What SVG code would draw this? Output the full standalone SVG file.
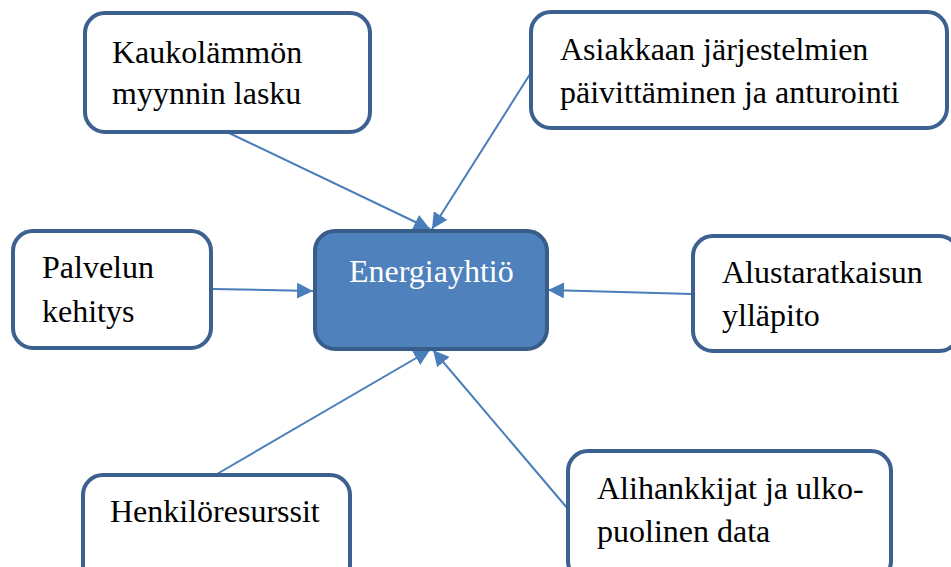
<svg xmlns="http://www.w3.org/2000/svg" width="951" height="567" viewBox="0 0 951 567">
  <style>
    .box { fill: #ffffff; stroke: #3c6090; stroke-width: 4; }
    .hub { fill: #4f81bd; stroke: #385d8a; stroke-width: 4; }
    .lbl { font-family: 'Liberation Serif', 'DejaVu Serif', serif; font-size: 32px; fill: #000000; }
    .hubtxt { font-family: 'Liberation Serif', 'DejaVu Serif', serif; font-size: 32px; fill: #ffffff; }
    .link { stroke: #4a7ebb; stroke-width: 2; fill: none; marker-end: url(#head); }
  </style>
  <defs>
    <marker id="head" markerUnits="userSpaceOnUse" markerWidth="18" markerHeight="16" refX="16" refY="8" orient="auto">
      <path d="M0,0 L16,8 L0,16 Z" fill="#4a7ebb"/>
    </marker>
  </defs>
  <rect width="951" height="567" fill="#ffffff"/>

  <g id="connectors">
    <line class="link" x1="229" y1="133" x2="430" y2="229"/>
    <line class="link" x1="532" y1="71" x2="432" y2="229"/>
    <line class="link" x1="212" y1="289" x2="313" y2="291"/>
    <line class="link" x1="692" y1="294" x2="548" y2="290"/>
    <line class="link" x1="217" y1="474" x2="430" y2="350"/>
    <line class="link" x1="568" y1="509" x2="433" y2="350"/>
  </g>

  <g id="kaukolammon">
    <rect class="box" x="85" y="13" width="285" height="119" rx="20"/>
    <text class="lbl" x="112" y="63">Kaukolämmön</text>
    <text class="lbl" x="112" y="104">myynnin lasku</text>
  </g>

  <g id="asiakkaan">
    <rect class="box" x="531" y="12" width="416" height="116" rx="20"/>
    <text class="lbl" x="560" y="60">Asiakkaan järjestelmien</text>
    <text class="lbl" x="560" y="103">päivittäminen ja anturointi</text>
  </g>

  <g id="palvelun">
    <rect class="box" x="13" y="231" width="198" height="117" rx="20"/>
    <text class="lbl" x="42" y="278">Palvelun</text>
    <text class="lbl" x="42" y="322">kehitys</text>
  </g>

  <g id="energiayhtio">
    <rect class="hub" x="315" y="231" width="232" height="118" rx="20"/>
    <text class="hubtxt" x="349" y="282">Energiayhtiö</text>
  </g>

  <g id="alustaratkaisun">
    <rect class="box" x="693" y="236" width="266" height="115" rx="20"/>
    <text class="lbl" x="722" y="283">Alustaratkaisun</text>
    <text class="lbl" x="722" y="326">ylläpito</text>
  </g>

  <g id="henkiloresurssit">
    <rect class="box" x="83" y="475" width="267" height="110" rx="20"/>
    <text class="lbl" x="110" y="522">Henkilöresurssit</text>
  </g>

  <g id="alihankkijat">
    <rect class="box" x="568" y="451" width="323" height="130" rx="20"/>
    <text class="lbl" x="597" y="499">Alihankkijat ja ulko-</text>
    <text class="lbl" x="597" y="542">puolinen data</text>
  </g>
</svg>
